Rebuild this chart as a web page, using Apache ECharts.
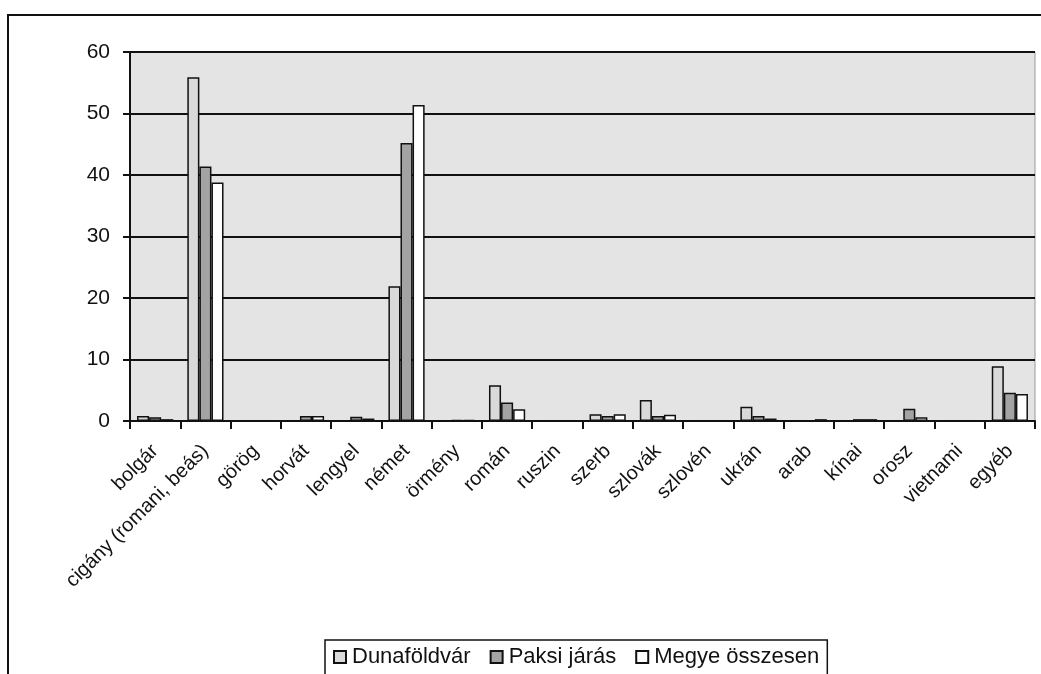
<!DOCTYPE html>
<html>
<head>
<meta charset="utf-8">
<script src="https://cdn.jsdelivr.net/npm/echarts@6/dist/echarts.min.js"></script>
<style>
html,body{margin:0;padding:0;background:#fff;}
#chart{width:1041px;height:674px;}
</style>
</head>
<body>
<div id="chart"></div>
<script>
const categories = ['bolgár','cigány (romani, beás)','görög','horvát','lengyel','német','örmény','román','ruszin','szerb','szlovák','szlovén','ukrán','arab','kínai','orosz','vietnami','egyéb'];
const seriesNames = ['Dunaföldvár','Paksi járás','Megye összesen'];
const dunafoldvar = [0.8, 55.9, 0, 0, 0, 21.9, 0, 5.8, 0, 1.1, 3.4, 0, 2.3, 0, 0, 0, 0, 8.9];
const paksiJaras  = [0.6, 41.4, 0, 0.8, 0.7, 45.2, 0.2, 3.0, 0, 0.8, 0.8, 0, 0.8, 0, 0.3, 2.0, 0, 4.6];
const megye       = [0.3, 38.8, 0, 0.8, 0.4, 51.4, 0.2, 1.9, 0, 1.1, 1.0, 0, 0.4, 0.3, 0.3, 0.6, 0, 4.4];
const yTicks = [0, 10, 20, 30, 40, 50, 60];

const FONT = 'Liberation Sans, Arial, sans-serif';
const fills = ['#d9d9d9', '#a3a3a3', '#ffffff'];
const values = [dunafoldvar, paksiJaras, megye];

const chart = echarts.init(document.getElementById('chart'), null, {renderer: 'canvas'});
chart.setOption({
  animation: false,
  backgroundColor: '#ffffff',
  graphic: [{
    type: 'rect',
    shape: {x: 8, y: 15, width: 1100, height: 700},
    style: {fill: 'none', stroke: '#111', lineWidth: 2},
    z: 0
  }],
  grid: {
    left: 130, right: 6, top: 52, bottom: 253,
    show: true, backgroundColor: '#e4e4e4', borderColor: '#9a9a9a', borderWidth: 1
  },
  legend: {
    left: 325, top: 640,
    data: seriesNames,
    itemWidth: 12, itemHeight: 12, itemGap: 19,
    padding: [6, 8, 8, 8],
    borderColor: '#111', borderWidth: 1.5,
    textStyle: {fontFamily: FONT, fontSize: 22, color: '#111', padding: [0, 0, 0, 1]},
    icon: 'rect'
  },
  xAxis: {
    type: 'category',
    data: categories,
    axisLine: {lineStyle: {color: '#111', width: 2}},
    axisTick: {show: true, length: 8, lineStyle: {color: '#111', width: 2}},
    axisLabel: {rotate: 45, fontFamily: FONT, fontSize: 20, color: '#111', margin: 27, interval: 0}
  },
  yAxis: {
    type: 'value',
    min: yTicks[0], max: yTicks[yTicks.length - 1], interval: 10,
    axisLine: {show: true, lineStyle: {color: '#111', width: 2}},
    axisTick: {show: true, length: 7, lineStyle: {color: '#111', width: 2}},
    axisLabel: {fontFamily: FONT, fontSize: 21, color: '#111', margin: 20},
    splitLine: {lineStyle: {color: '#111', width: 2}}
  },
  series: seriesNames.map((name, i) => ({
    name: name,
    type: 'bar',
    data: values[i],
    barGap: '0%',
    barCategoryGap: '28%',
    itemStyle: {color: fills[i], borderColor: '#111', borderWidth: 1.5},
    z: 3
  }))
});
</script>
</body>
</html>
